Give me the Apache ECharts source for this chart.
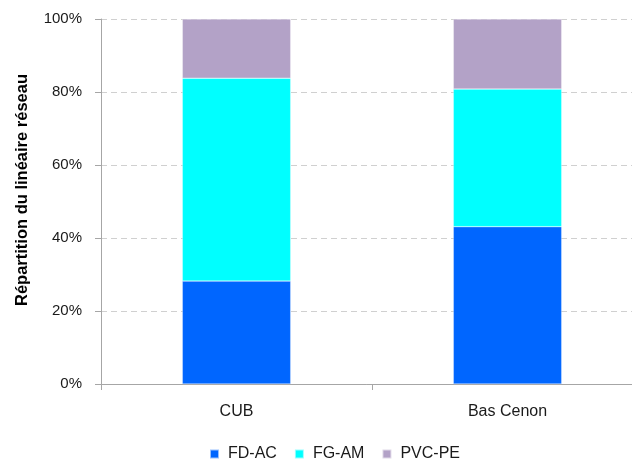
<!DOCTYPE html>
<html>
<head>
<meta charset="utf-8">
<script src="https://cdn.jsdelivr.net/npm/echarts@6/dist/echarts.min.js"></script>
<style>html,body{margin:0;padding:0;background:#fff}#c{width:632px;height:461px}</style>
</head>
<body>
<div id="c"></div>
<script>
const categories = ['CUB', 'Bas Cenon'];
const seriesNames = ['FD-AC', 'FG-AM', 'PVC-PE'];
const fdAc = [28.2, 43.1];
const fgAm = [55.6, 37.7];
const pvcPe = [16.2, 19.2];
const colors = ['#0066FF', '#00FFFF', '#B3A2C7'];
const yTitle = 'Répartition du linéaire réseau';

const font = 'Liberation Sans, Arial, sans-serif';
const chart = echarts.init(document.getElementById('c'));
const values = [fdAc, fgAm, pvcPe];
chart.setOption({
  animation: false,
  color: colors,
  textStyle: { fontFamily: font },
  grid: { left: 101, top: 19, height: 365, width: 542, outerBoundsMode: 'none', containLabel: false },
  legend: {
    top: 441, left: 204, icon: 'rect', itemWidth: 9, itemHeight: 9, itemGap: 17,
    textStyle: { fontSize: 16, color: '#1a1a1a', fontFamily: font, padding: [0, 0, 0, 4] },
    data: seriesNames
  },
  graphic: [{
    type: 'text', x: 22, y: 190, rotation: Math.PI / 2,
    style: { text: yTitle, font: 'bold 16.5px Liberation Sans, Arial, sans-serif', fill: '#000', align: 'center', verticalAlign: 'middle' }
  }],
  xAxis: {
    type: 'category', data: categories,
    axisLine: { lineStyle: { color: '#a6a6a6', width: 1 } },
    axisTick: { show: true, length: 6, lineStyle: { color: '#a6a6a6' } },
    axisLabel: { margin: 20, fontSize: 16, color: '#1a1a1a' }
  },
  yAxis: {
    type: 'value', min: 0, max: 100, interval: 20,
    axisLine: { show: true, lineStyle: { color: '#a6a6a6' } },
    axisTick: { show: true, length: 6, lineStyle: { color: '#a6a6a6' } },
    axisLabel: { formatter: '{value}%', margin: 19, fontSize: 15, color: '#1a1a1a' },
    splitLine: { lineStyle: { type: [6, 4], color: '#d0d0d0' } }
  },
  series: seriesNames.map((n, i) => ({
    name: n, type: 'bar', stack: 'a', barWidth: '40%', data: values[i],
    itemStyle: { borderColor: 'rgba(255,255,255,0.6)', borderWidth: 0.5 }
  }))
});
</script>
</body>
</html>
